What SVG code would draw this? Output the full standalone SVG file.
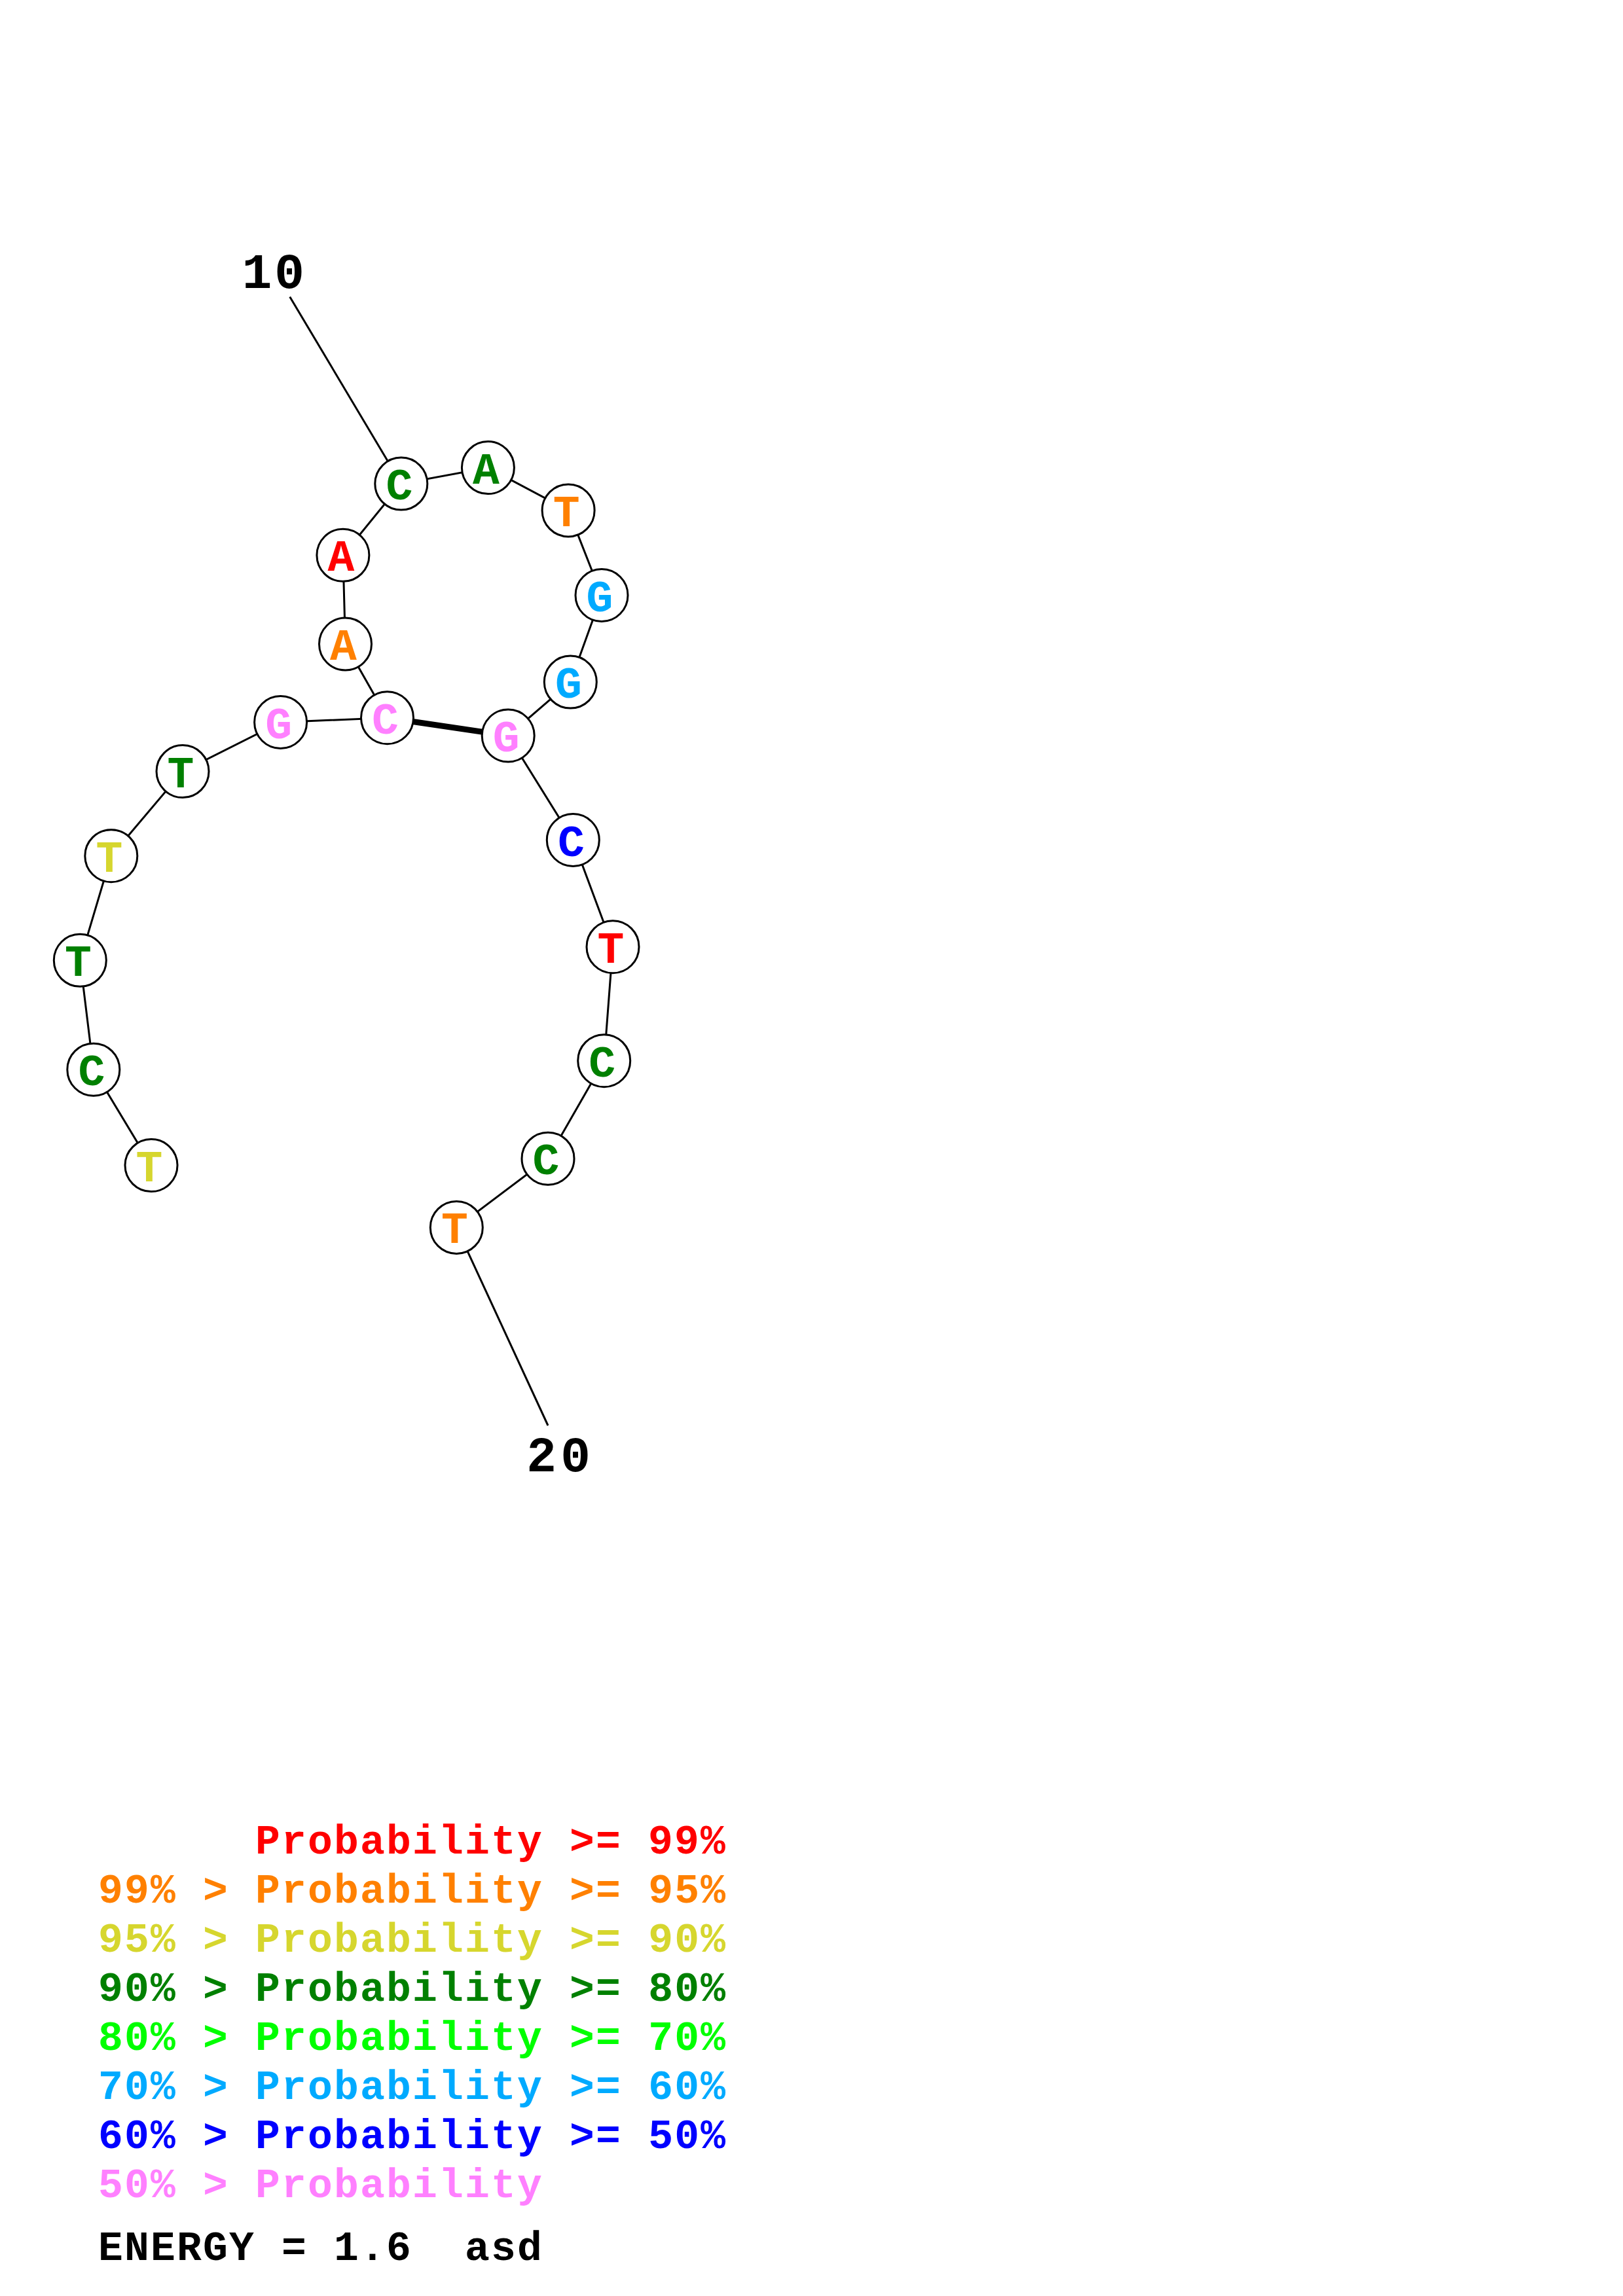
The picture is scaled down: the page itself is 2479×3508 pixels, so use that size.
<svg xmlns="http://www.w3.org/2000/svg" width="2479" height="3508" viewBox="0 0 2479 3508">
<style>
.bg{fill:#ffffff}
.ln{stroke:#000;stroke-width:3;fill:none}
.pair{stroke:#000;stroke-width:9;fill:none}
.nd{fill:#fff;stroke:#000;stroke-width:3}
.b{font-family:"Liberation Mono","Courier New",monospace;font-weight:bold;font-size:68px;text-anchor:middle}
.lbl{font-family:"Liberation Mono","Courier New",monospace;font-weight:bold;font-size:76px;fill:#000}
.leg{font-family:"Liberation Mono","Courier New",monospace;font-weight:bold;font-size:63px;letter-spacing:2.2px}
.p99{fill:#ff0000}.p95{fill:#ff8000}.p90{fill:#d6d62e}.p80{fill:#008000}.p70{fill:#00ff00}.p60{fill:#00aaff}.p50{fill:#0000ff}.p0{fill:#ff80ff}
</style>
<rect class="bg" x="0" y="0" width="2479" height="3508"/>
<g id="connectors">
<line class="ln" x1="442.7" y1="453.4" x2="612.8" y2="739.1"/>
<line class="ln" x1="697.3" y1="1875.4" x2="837" y2="2178"/>
<polyline class="ln" points="231,1780.6 142.8,1634.2 122.3,1467.3 169.8,1307.7 279,1178.6 428.6,1103.5 591.5,1096.7 527.5,984 523.9,848.3 612.8,739.1 745.4,714.6 868.1,779.9 919,909.5 871.3,1042.1 776.2,1124 875.3,1283.5 936,1446.7 922.7,1620.7 837,1770.2 697.3,1875.4"/>
<line class="pair" x1="591.5" y1="1096.7" x2="776.2" y2="1124"/>
</g>
<g id="label-10"><text class="lbl" x="369.8 419.2" y="440">10</text></g>
<g id="label-20"><text class="lbl" x="804.3 856.3" y="2248">20</text></g>
<g id="n1"><circle class="nd" cx="231" cy="1780.6" r="40"/><text class="b p90" x="228" y="1804.6">T</text></g>
<g id="n2"><circle class="nd" cx="142.8" cy="1634.2" r="40"/><text class="b p80" x="139.8" y="1658.2">C</text></g>
<g id="n3"><circle class="nd" cx="122.3" cy="1467.3" r="40"/><text class="b p80" x="119.3" y="1491.3">T</text></g>
<g id="n4"><circle class="nd" cx="169.8" cy="1307.7" r="40"/><text class="b p90" x="166.8" y="1331.7">T</text></g>
<g id="n5"><circle class="nd" cx="279" cy="1178.6" r="40"/><text class="b p80" x="276" y="1202.6">T</text></g>
<g id="n6"><circle class="nd" cx="428.6" cy="1103.5" r="40"/><text class="b p0" x="425.6" y="1127.5">G</text></g>
<g id="n7"><circle class="nd" cx="591.5" cy="1096.7" r="40"/><text class="b p0" x="588.5" y="1120.7">C</text></g>
<g id="n8"><circle class="nd" cx="527.5" cy="984" r="40"/><text class="b p95" x="524.5" y="1008">A</text></g>
<g id="n9"><circle class="nd" cx="523.9" cy="848.3" r="40"/><text class="b p99" x="520.9" y="872.3">A</text></g>
<g id="n10"><circle class="nd" cx="612.8" cy="739.1" r="40"/><text class="b p80" x="609.8" y="763.1">C</text></g>
<g id="n11"><circle class="nd" cx="745.4" cy="714.6" r="40"/><text class="b p80" x="742.4" y="738.6">A</text></g>
<g id="n12"><circle class="nd" cx="868.1" cy="779.9" r="40"/><text class="b p95" x="865.1" y="803.9">T</text></g>
<g id="n13"><circle class="nd" cx="919" cy="909.5" r="40"/><text class="b p60" x="916" y="933.5">G</text></g>
<g id="n14"><circle class="nd" cx="871.3" cy="1042.1" r="40"/><text class="b p60" x="868.3" y="1066.1">G</text></g>
<g id="n15"><circle class="nd" cx="776.2" cy="1124" r="40"/><text class="b p0" x="773.2" y="1148">G</text></g>
<g id="n16"><circle class="nd" cx="875.3" cy="1283.5" r="40"/><text class="b p50" x="872.3" y="1307.5">C</text></g>
<g id="n17"><circle class="nd" cx="936" cy="1446.7" r="40"/><text class="b p99" x="933" y="1470.7">T</text></g>
<g id="n18"><circle class="nd" cx="922.7" cy="1620.7" r="40"/><text class="b p80" x="919.7" y="1644.7">C</text></g>
<g id="n19"><circle class="nd" cx="837" cy="1770.2" r="40"/><text class="b p80" x="834" y="1794.2">C</text></g>
<g id="n20"><circle class="nd" cx="697.3" cy="1875.4" r="40"/><text class="b p95" x="694.3" y="1899.4">T</text></g>
<g id="legend">
<text class="leg p99" x="390" y="2832">Probability &gt;= 99%</text>
<text class="leg p95" x="150" y="2907">99% &gt; Probability &gt;= 95%</text>
<text class="leg p90" x="150" y="2982">95% &gt; Probability &gt;= 90%</text>
<text class="leg p80" x="150" y="3057">90% &gt; Probability &gt;= 80%</text>
<text class="leg p70" x="150" y="3132">80% &gt; Probability &gt;= 70%</text>
<text class="leg p60" x="150" y="3207">70% &gt; Probability &gt;= 60%</text>
<text class="leg p50" x="150" y="3282">60% &gt; Probability &gt;= 50%</text>
<text class="leg p0" x="150" y="3357">50% &gt; Probability</text>
<text class="leg" fill="#000" x="150" y="3453" xml:space="preserve">ENERGY = 1.6  asd</text>
</g>
</svg>
